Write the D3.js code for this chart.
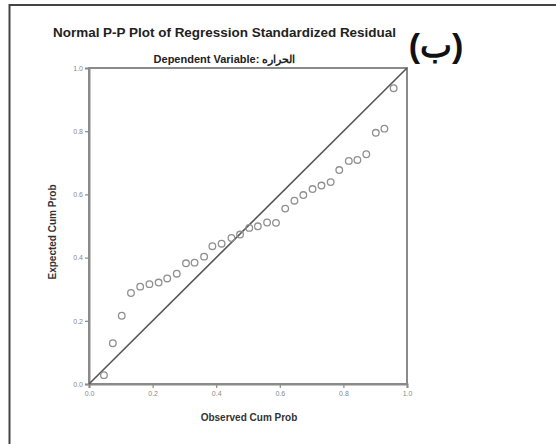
<!DOCTYPE html>
<html><head><meta charset="utf-8">
<script src="https://cdn.jsdelivr.net/npm/d3@7"></script>
<style>html,body{margin:0;padding:0;background:#fff;}svg{display:block;}</style>
</head><body>
<script>
const observed = [0.047,0.075,0.103,0.132,0.161,0.190,0.219,0.246,0.276,0.305,0.332,0.362,0.388,0.417,0.448,0.475,0.504,0.531,0.560,0.588,0.617,0.646,0.674,0.703,0.731,0.760,0.787,0.817,0.844,0.872,0.902,0.929,0.958];
const expected = [0.028,0.129,0.216,0.288,0.308,0.316,0.321,0.334,0.349,0.382,0.384,0.403,0.436,0.444,0.462,0.473,0.494,0.499,0.511,0.510,0.555,0.580,0.598,0.617,0.628,0.639,0.677,0.706,0.709,0.727,0.795,0.808,0.936];
const tickValues = [0,0.2,0.4,0.6,0.8,1.0];
const title = "Normal P-P Plot of Regression Standardized Residual";
const subtitle = "Dependent Variable: الحراره";
const xLabel = "Observed Cum Prob";
const yLabel = "Expected Cum Prob";
const badge = "(ب)";

const W = 556, H = 444;
const svg = d3.select("body").append("svg").attr("width", W).attr("height", H);
svg.append("rect").attr("width", W).attr("height", H).attr("fill", "#fff");
// outer frame (left & top visible)
svg.append("path").attr("d", `M9.5,${H} L9.5,5 L${W},5`).attr("fill","none").attr("stroke","#444").attr("stroke-width",2);

const x = d3.scaleLinear().domain([0,1]).range([89,407]);
const y = d3.scaleLinear().domain([0,1]).range([384,68]);
const font = "Liberation Sans, Arial, sans-serif";

// plot box
svg.append("rect").attr("x", x(0)).attr("y", y(1)).attr("width", x(1)-x(0)).attr("height", y(0)-y(1))
  .attr("fill","none").attr("stroke","#8a8a8a").attr("stroke-width",2);

const xAxis = d3.axisBottom(x).tickValues(tickValues).tickFormat(d3.format(".1f")).tickSize(4).tickPadding(3);
const yAxis = d3.axisLeft(y).tickValues(tickValues).tickFormat(d3.format(".1f")).tickSize(4).tickPadding(2);
const gx = svg.append("g").attr("transform", `translate(0,${y(0)})`).call(xAxis);
const gy = svg.append("g").attr("transform", `translate(${x(0)},0)`).call(yAxis);
[gx, gy].forEach(g => {
  g.select(".domain").attr("stroke","#8a8a8a").attr("stroke-width",2);
  g.selectAll(".tick line").attr("stroke","#8a8a8a").attr("stroke-width",1.2);
  g.selectAll(".tick text").attr("fill","#888").style("font-family", font).style("font-size","7px");
});

// diagonal reference line
svg.append("line").attr("x1", x(0)).attr("y1", y(0)).attr("x2", x(1)).attr("y2", y(1))
  .attr("stroke","#555").attr("stroke-width",1.6);

// points
svg.append("g").selectAll("circle").data(observed).join("circle")
  .attr("cx", (d,i) => x(d)).attr("cy", (d,i) => y(expected[i])).attr("r", 3.3)
  .attr("fill","none").attr("stroke","#8f8f8f").attr("stroke-width",1.3);

// titles
svg.append("text").attr("x", 224.5).attr("y", 37).attr("text-anchor","middle")
  .attr("textLength", 343).attr("lengthAdjust","spacingAndGlyphs")
  .style("font-family", font).style("font-weight","bold").style("font-size","12px").attr("fill","#222").text(title);
svg.append("text").attr("x", 224.5).attr("y", 63).attr("text-anchor","middle")
  .style("font-family", font).style("font-weight","bold").style("font-size","11px").attr("fill","#222").text(subtitle);
svg.append("text").attr("x", 436).attr("y", 57).attr("text-anchor","middle")
  .style("font-family", font).style("font-weight","bold").style("font-size","34px").attr("fill","#111").text(badge);

svg.append("text").attr("x", 249).attr("y", 421).attr("text-anchor","middle")
  .style("font-family", font).style("font-weight","bold").style("font-size","10px").attr("fill","#333").text(xLabel);
svg.append("text").attr("transform", "translate(56,232) rotate(-90)").attr("text-anchor","middle")
  .style("font-family", font).style("font-weight","bold").style("font-size","10px").attr("fill","#333").text(yLabel);
</script>
</body></html>
